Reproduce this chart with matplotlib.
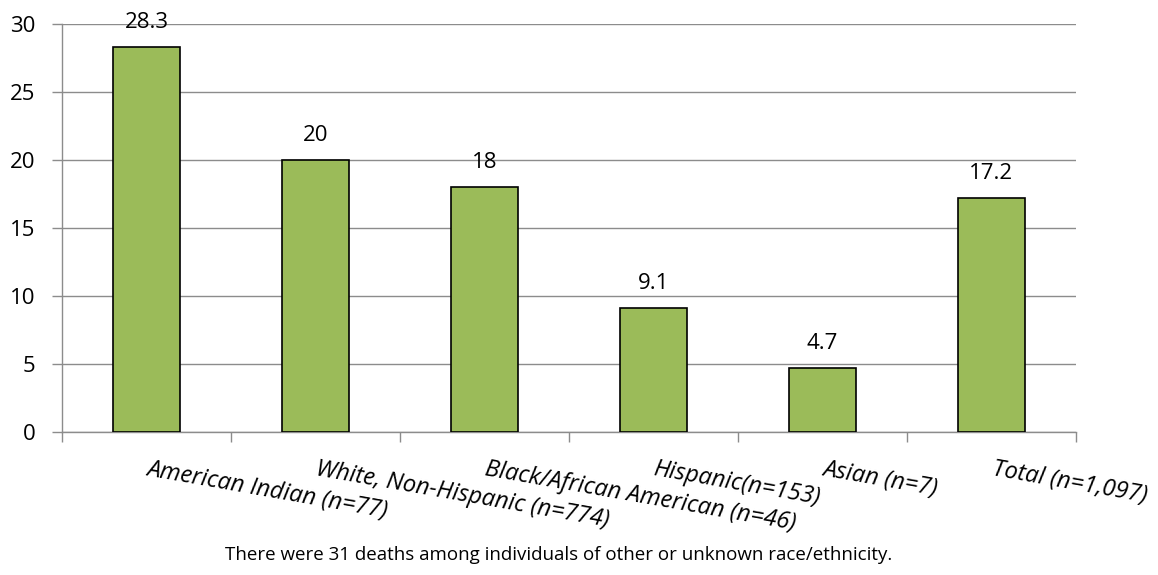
import matplotlib
matplotlib.use("Agg")
import matplotlib.pyplot as plt
import numpy as np

categories = ["American Indian (n=77)", "White, Non-Hispanic (n=774)",
              "Black/African American (n=46)", "Hispanic(n=153)",
              "Asian (n=7)", "Total (n=1,097)"]
values = [28.3, 20, 18, 9.1, 4.7, 17.2]
value_labels = ["28.3", "20", "18", "9.1", "4.7", "17.2"]
yticks = [0, 5, 10, 15, 20, 25, 30]
footnote = "There were 31 deaths among individuals of other or unknown race/ethnicity."

plt.rcParams['font.family'] = ['Open Sans', 'DejaVu Sans']

fig = plt.figure(figsize=(11.58, 5.75), dpi=100)
ax = fig.add_axes([0.0535, 0.249, 0.8755, 0.709])

x = np.arange(len(categories))
ax.bar(x, values, width=0.4, color="#9BBB59", edgecolor="black", linewidth=1.2, zorder=3)
for xi, v, lab in zip(x, values, value_labels):
    ax.annotate(lab, xy=(xi, v), xytext=(0, 14), textcoords="offset points",
                ha="center", va="baseline", fontsize=16)

ax.set_xlim(-0.5, len(categories) - 0.5)
ax.set_ylim(0, 30)
ax.set_yticks(yticks)
ax.set_yticklabels([str(t) for t in yticks], fontsize=16)
ax.yaxis.grid(True, color="#8c8c8c", linewidth=1)
ax.set_axisbelow(True)

# category boundaries as tick marks, labels placed manually
ax.set_xticks(np.arange(-0.5, len(categories) + 0.5, 1))
ax.set_xticklabels([])
ax.tick_params(axis="x", direction="out", length=7, color="#8c8c8c", width=1)
ax.tick_params(axis="y", direction="out", length=7, color="#8c8c8c", width=1, pad=12)

for side in ["top", "right"]:
    ax.spines[side].set_visible(False)
for side in ["left", "bottom"]:
    ax.spines[side].set_color("#8c8c8c")
    ax.spines[side].set_linewidth(1)

for xi, cat in zip(x, categories):
    ax.annotate(cat, xy=(xi, 0), xycoords=("data", "axes fraction"),
                xytext=(0, -31), textcoords="offset points",
                ha="left", va="baseline", rotation=-10, rotation_mode="anchor",
                fontsize=17, style="italic")

fig.text(0.482, 0.035, footnote, ha="center", va="center", fontsize=13.5)

fig.savefig("out.png", dpi=100)
